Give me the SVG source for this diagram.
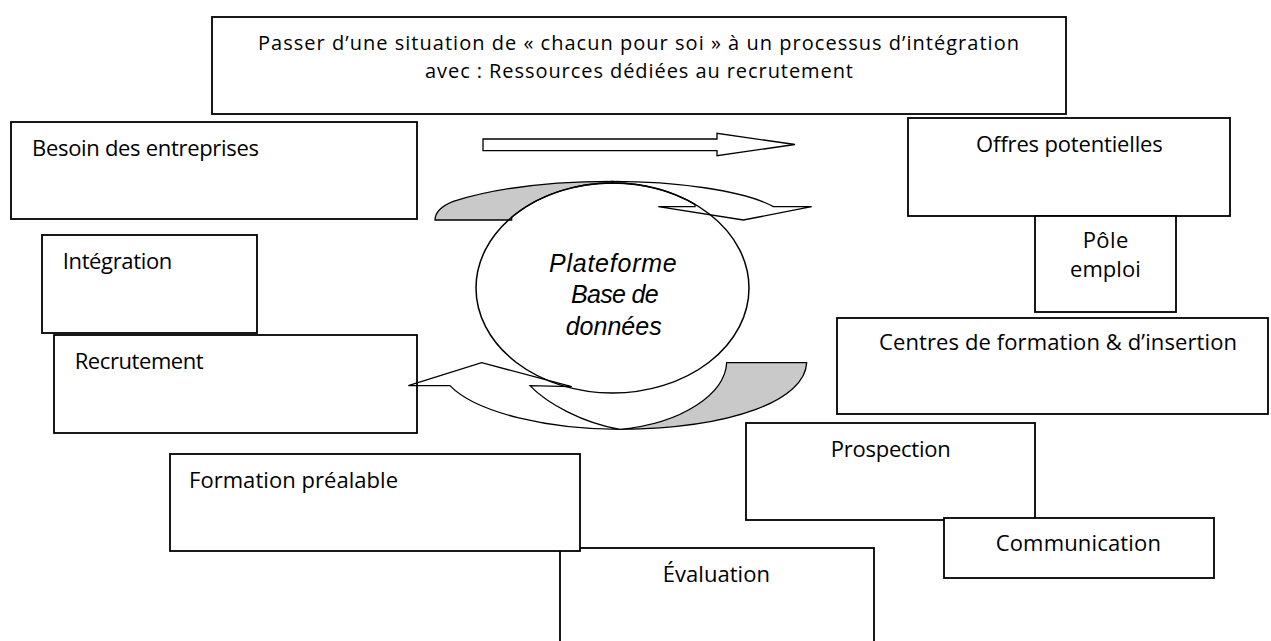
<svg xmlns="http://www.w3.org/2000/svg" width="1271" height="641" viewBox="0 0 1271 641">
<style>
.box{fill:#fff;stroke:#000;stroke-width:1.8}
.open{fill:none;stroke:#000;stroke-width:1.8}
.lbl{font-family:"Open Sans","Liberation Sans",sans-serif;font-size:22px;fill:#000}
.ttl{font-family:"Open Sans","Liberation Sans",sans-serif;font-size:20px;fill:#000}
.ital{font-family:"Liberation Sans",Arial,sans-serif;font-style:italic;font-size:25px;fill:#000}
.arr{fill:#fff;stroke:#000;stroke-width:1.3;stroke-linejoin:miter}
.arr-g{fill:#c9c9c9;stroke:#000;stroke-width:1.3}
.ns{vector-effect:non-scaling-stroke}
</style>
<rect width="1271" height="641" fill="#fff"/>
<g id="connectors">
  <polygon id="arrow-straight" class="arr" points="483,139 717,139 717,133.3 795,144.5 717,155.7 717,150.7 483,150.7"/>
  <g id="arrow-cycle" transform="translate(400 180) scale(0.333333)">
    <path class="arr-g ns" d="M105,120 C105,95 125,78 160,64 C300,20 480,4 637.5,4 L637.5,9 A409.5,315 0 0 0 335,111.7 L335,120 Z"/>
    <path class="arr ns" d="M637.5,4 C820,4 1030,30 1120,80 L1235,80 L1030,120 L775,80 L885,80 L885,73 A409.5,315 0 0 0 637.5,9 Z"/>
    <path class="arr-g ns" d="M980,548 L1220,548 C1215,660 1000,745 660,748 C850,730 975,640 980,548 Z"/>
    <path class="arr ns" d="M660,748 C450,748 230,700 150,617 L25,617 L245,548 L515,620 L390,617 C440,670 550,730 660,748 Z"/>
  </g>
</g>
<g id="node-titre">
  <rect class="box" x="212" y="17" width="854" height="97"/>
  <text class="ttl" x="258" y="49.5" textLength="761" lengthAdjust="spacing">Passer d’une situation de « chacun pour soi » à un processus d’intégration</text>
  <text class="ttl" x="425" y="77.5" textLength="428" lengthAdjust="spacing">avec : Ressources dédiées au recrutement</text>
</g>
<g id="node-besoin">
  <rect class="box" x="11" y="122" width="406" height="97"/>
  <text class="lbl" x="32" y="156" textLength="227" lengthAdjust="spacing">Besoin des entreprises</text>
</g>
<g id="node-integration">
  <rect class="box" x="42" y="235" width="215" height="98"/>
  <text class="lbl" x="62.7" y="269" textLength="109.6" lengthAdjust="spacing">Intégration</text>
</g>
<g id="node-recrutement">
  <rect class="open" x="54" y="335" width="363" height="98"/>
  <text class="lbl" x="74.7" y="369" textLength="129" lengthAdjust="spacing">Recrutement</text>
</g>
<g id="node-evaluation">
  <rect class="box" x="560" y="548" width="314" height="110"/>
  <text class="lbl" x="662.7" y="582.3" textLength="107.3" lengthAdjust="spacing">Évaluation</text>
</g>
<g id="node-formation">
  <rect class="box" x="170" y="454" width="410" height="97"/>
  <text class="lbl" x="189" y="488.3" textLength="209" lengthAdjust="spacing">Formation préalable</text>
</g>
<g id="node-offres">
  <rect class="box" x="908" y="118" width="322" height="98"/>
  <text class="lbl" x="976" y="152.3" textLength="186.7" lengthAdjust="spacing">Offres potentielles</text>
</g>
<g id="node-pole-emploi">
  <rect class="box" x="1035" y="216" width="141" height="96"/>
  <text class="lbl" x="1082.7" y="248.3" textLength="45.6" lengthAdjust="spacing">Pôle</text>
  <text class="lbl" x="1070" y="276.7" textLength="70.7" lengthAdjust="spacing">emploi</text>
</g>
<g id="node-centres">
  <rect class="box" x="837" y="318" width="431" height="96"/>
  <text class="lbl" x="879" y="350" textLength="358" lengthAdjust="spacing">Centres de formation &amp; d’insertion</text>
</g>
<g id="node-prospection">
  <rect class="box" x="746" y="423" width="289" height="97"/>
  <text class="lbl" x="830.7" y="456.7" textLength="120" lengthAdjust="spacing">Prospection</text>
</g>
<g id="node-communication">
  <rect class="box" x="944" y="518" width="270" height="60"/>
  <text class="lbl" x="995.7" y="550.7" textLength="165.3" lengthAdjust="spacing">Communication</text>
</g>
<g id="node-plateforme">
  <ellipse cx="612.5" cy="288" rx="136.5" ry="105" fill="none" stroke="#000" stroke-width="1.5"/>
  <text class="ital" x="549" y="271.7" textLength="127.7" lengthAdjust="spacing">Plateforme</text>
  <text class="ital" x="571" y="303.3" textLength="87.7" lengthAdjust="spacing">Base de</text>
  <text class="ital" x="565.7" y="335" textLength="96" lengthAdjust="spacing">données</text>
</g>
</svg>
